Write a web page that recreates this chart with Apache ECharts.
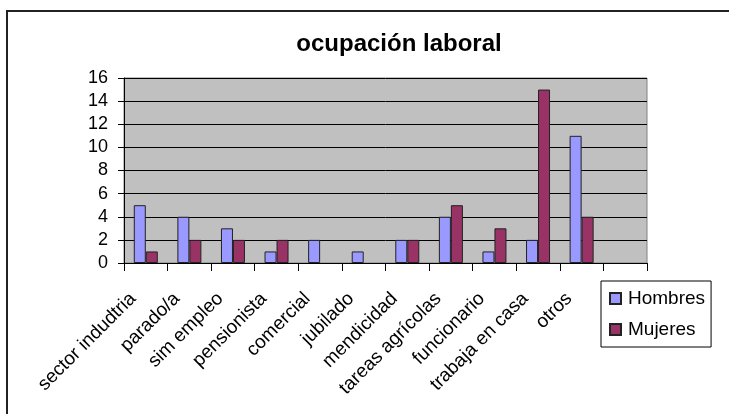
<!DOCTYPE html>
<html>
<head>
<meta charset="utf-8">
<script src="https://cdn.jsdelivr.net/npm/echarts@6/dist/echarts.min.js"></script>
<style>
  html, body { margin: 0; padding: 0; background: #fff; }
  #chart { width: 729px; height: 414px; }
</style>
</head>
<body>
<div id="chart"></div>
<script>
// datos
const categorias = ["sector indudtria", "parado/a", "sim empleo", "pensionista", "comercial", "jubilado",
  "mendicidad", "tareas agrícolas", "funcionario", "trabaja en casa", "otros", ""];
const hombres = [5, 4, 3, 1, 2, 1, 2, 4, 1, 2, 11, null];
const mujeres = [1, 2, 2, 2, null, null, 2, 5, 3, 15, 4, null];
const ticksY = [0, 2, 4, 6, 8, 10, 12, 14, 16];

const fuente = "'Liberation Sans', Arial, sans-serif";

const chart = echarts.init(document.getElementById("chart"));
chart.setOption({
  animation: false,
  title: {
    text: "ocupación laboral",
    left: 394,
    top: 27,
    textAlign: "center",
    textStyle: { fontFamily: fuente, fontSize: 24, fontWeight: "bold", color: "#000" }
  },
  graphic: [
    {
      type: "rect",
      shape: { x: 7, y: 11, width: 760, height: 440 },
      style: { fill: "none", stroke: "#222", lineWidth: 2 },
      silent: true
    }
  ],
  legend: {
    orient: "vertical",
    left: 601,
    top: 281,
    padding: [8, 6, 8, 8],
    itemGap: 12,
    itemWidth: 11,
    itemHeight: 11,
    icon: "rect",
    borderColor: "#000",
    borderWidth: 1,
    backgroundColor: "#fff",
    textStyle: { fontFamily: fuente, fontSize: 19, color: "#000", padding: [0, 0, 0, 2] },
    data: ["Hombres", "Mujeres"]
  },
  grid: {
    left: 124,
    top: 78,
    width: 523,
    height: 185,
    show: true,
    backgroundColor: "#C0C0C0",
    borderColor: "#808080",
    borderWidth: 1
  },
  xAxis: {
    type: "category",
    data: categorias,
    axisLine: { lineStyle: { color: "#000", width: 1 } },
    axisTick: { show: true, length: 8, lineStyle: { color: "#000" } },
    axisLabel: {
      interval: 0,
      rotate: 45,
      margin: 20,
      padding: [0, 18, 0, 0],
      fontFamily: fuente,
      fontSize: 19,
      color: "#000"
    }
  },
  yAxis: {
    type: "value",
    min: 0,
    max: 16,
    interval: 2,
    axisLine: { show: true, lineStyle: { color: "#000", width: 1 } },
    axisTick: { show: true, length: 6, lineStyle: { color: "#000" } },
    axisLabel: {
      margin: 16,
      fontFamily: fuente,
      fontSize: 18,
      color: "#000",
      formatter: (v) => (ticksY.includes(v) ? String(v) : "")
    },
    splitLine: { show: true, lineStyle: { color: "#000", width: 1 } }
  },
  series: [
    {
      name: "Hombres",
      type: "bar",
      data: hombres,
      barWidth: 12,
      barGap: "0%",
      itemStyle: { color: "#9999FF", borderColor: "#222", borderWidth: 1 }
    },
    {
      name: "Mujeres",
      type: "bar",
      data: mujeres,
      barWidth: 12,
      barGap: "0%",
      itemStyle: { color: "#993366", borderColor: "#222", borderWidth: 1 }
    }
  ]
});
</script>
</body>
</html>
